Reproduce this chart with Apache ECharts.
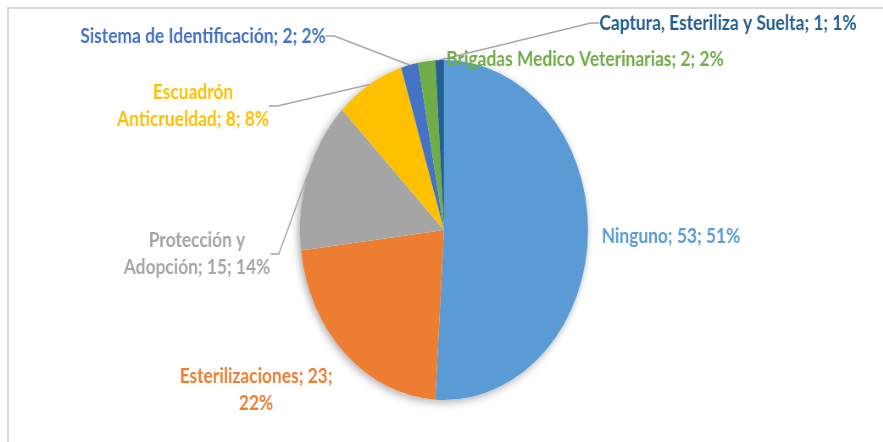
<!DOCTYPE html>
<html>
<head>
<meta charset="utf-8">
<script src="https://cdn.jsdelivr.net/npm/echarts@6/dist/echarts.min.js"></script>
<style>
  html, body { margin: 0; padding: 0; background: #fff; width: 883px; height: 442px; overflow: hidden; }
  #frame { position: absolute; left: 7px; top: 7px; width: 900px; height: 460px;
           border-left: 2px solid #d9d9d9; border-top: 2px solid #d9d9d9; }
  /* the source picture was squeezed sideways, so the pie reads as an ellipse */
  #chart { position: absolute; left: 0; top: 0; width: 1042px; height: 442px;
           transform: scaleX(0.8475); transform-origin: 0 0; }
</style>
</head>
<body>
<div id="frame"></div>
<div id="chart"></div>
<script>
const categories = [
  'Ninguno',
  'Esterilizaciones',
  'Protección y Adopción',
  'Escuadrón Anticrueldad',
  'Sistema de Identificación',
  'Brigadas Medico Veterinarias',
  'Captura, Esteriliza y Suelta',
];
const counts = [53, 23, 15, 8, 2, 2, 1];

const SX = 0.8475;
const sliceColors = ['#5b9bd5', '#ed7d31', '#a5a5a5', '#ffc000', '#4472c4', '#70ad47', '#255e91'];
// label centre on the final picture (x, y), words on the first line (0 = no wrap), leader line
const labelSpots = [
  [671, 236, 0, false],
  [256, 390, 2, false],
  [197, 254, 2, true],
  [193, 106, 1, true],
  [203, 36, 0, true],
  [585, 59, 0, false],
  [728, 23, 0, true],
];

const chart = echarts.init(document.getElementById('chart'), null, { renderer: 'canvas' });

const total = counts.reduce((a, b) => a + b, 0);

chart.setOption({
  animation: false,
  series: [
    {
      // soft shadow under the whole pie
      type: 'pie',
      silent: true,
      center: [444 / SX, 230],
      radius: 170,
      label: { show: false },
      labelLine: { show: false },
      itemStyle: {
        color: '#ffffff',
        shadowBlur: 10,
        shadowColor: 'rgba(0,0,0,0.35)',
        shadowOffsetX: -2,
        shadowOffsetY: 2,
      },
      data: [{ value: total }],
      z: 1,
    },
    {
      type: 'pie',
      center: [444 / SX, 230],
      radius: 170,
      startAngle: 90,
      clockwise: true,
      avoidLabelOverlap: false,
      percentPrecision: 0,
      z: 2,
      itemStyle: { borderWidth: 0 },
      label: {
        show: true,
        position: 'outside',
        fontFamily: 'Lato',
        fontWeight: 'bold',
        fontSize: 20.5,
        lineHeight: 27,
        formatter: (p) => {
          const words = `${p.name}; ${p.value}; ${p.percent}%`.split(' ');
          const wrap = labelSpots[p.dataIndex][2];
          if (!wrap) return words.join(' ');
          return words.slice(0, wrap).join(' ') + '\n' + words.slice(wrap).join(' ');
        },
      },
      labelLine: {
        length: 8,
        length2: 10,
        lineStyle: { color: '#a6a6a6', width: 1.5 },
      },
      labelLayout: (params) => {
        const spot = labelSpots[params.dataIndex];
        return {
          x: spot[0] / SX,
          y: spot[1],
          align: 'center',
          verticalAlign: 'middle',
        };
      },
      data: categories.map((name, i) => ({
        name,
        value: counts[i],
        itemStyle: { color: sliceColors[i] },
        label: { color: sliceColors[i] },
        labelLine: { show: labelSpots[i][3] },
      })),
    },
  ],
});
</script>
</body>
</html>
